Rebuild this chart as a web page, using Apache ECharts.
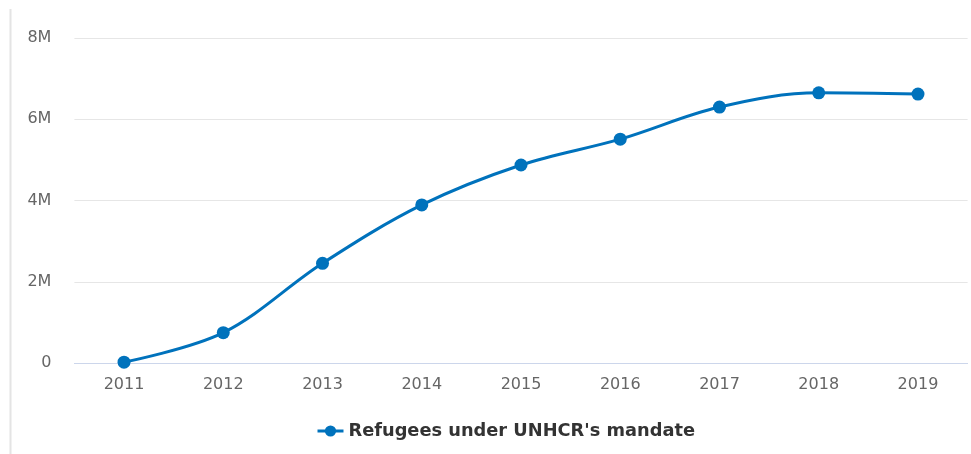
<!DOCTYPE html>
<html>
<head>
<meta charset="utf-8">
<style>
  html, body { margin: 0; padding: 0; background: #fff; }
  #chart { width: 971px; height: 454px; }
</style>
<script src="https://cdn.jsdelivr.net/npm/echarts@6/dist/echarts.min.js"></script>
</head>
<body>
<div id="chart"></div>
<script>
// Refugees under UNHCR's mandate, by year
const years = ['2011', '2012', '2013', '2014', '2015', '2016', '2017', '2018', '2019'];
const refugees = [20000, 746000, 2454000, 3890000, 4874000, 5510000, 6300000, 6650000, 6620000];
const seriesName = "Refugees under UNHCR's mandate";

const chart = echarts.init(document.getElementById('chart'));
chart.setOption({
  animation: false,
  backgroundColor: '#ffffff',
  grid: { left: 74.4, right: 3.4, top: 38, bottom: 91, containLabel: false },
  graphic: [{
    type: 'line',
    shape: { x1: 10.5, y1: 9, x2: 10.5, y2: 454 },
    style: { stroke: '#e4e4e4', lineWidth: 2 },
    silent: true
  }],
  xAxis: {
    type: 'category',
    data: years,
    boundaryGap: true,
    axisLine: { show: true, lineStyle: { color: '#ccd6eb', width: 1 } },
    axisTick: { show: false },
    axisLabel: {
      color: '#666666',
      fontFamily: 'DejaVu Sans',
      fontSize: 16,
      margin: 14
    },
    splitLine: { show: false }
  },
  yAxis: {
    type: 'value',
    min: 0,
    max: 8000000,
    interval: 2000000,
    axisLine: { show: false },
    axisTick: { show: false },
    axisLabel: {
      color: '#666666',
      fontFamily: 'DejaVu Sans',
      fontSize: 16,
      margin: 23,
      formatter: v => v === 0 ? '0' : (v / 1000000) + 'M'
    },
    splitLine: { lineStyle: { color: '#e6e6e6', width: 1 } }
  },
  legend: {
    data: [seriesName],
    top: 417,
    left: 311,
    itemWidth: 26,
    itemHeight: 14,
    itemGap: 9,
    lineStyle: { width: 3 },
    textStyle: {
      color: '#333333',
      fontFamily: 'DejaVu Sans',
      fontWeight: 'bold',
      fontSize: 17.8
    }
  },
  series: [{
    name: seriesName,
    type: 'line',
    data: refugees,
    smooth: 0.35,
    symbol: 'circle',
    symbolSize: 13,
    itemStyle: { color: '#0072bc' },
    lineStyle: { color: '#0072bc', width: 3 }
  }]
});
</script>
</body>
</html>
